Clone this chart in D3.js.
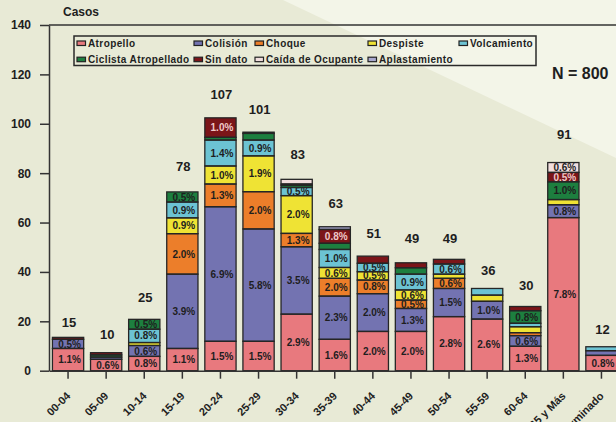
<!DOCTYPE html>
<html>
<head>
<meta charset="utf-8">
<script src="https://cdn.jsdelivr.net/npm/d3@7"></script>
<style>
    body { margin: 0; background: #e8ead6; }
    svg { display: block; font-family: "Liberation Sans", Arial, sans-serif; font-weight: bold; }
</style>
</head>
<body>
<svg id="chart" width="616" height="422"></svg>
<script>
// age groups and total cases shown above each bar
let ageGroups = ["00-04", "05-09", "10-14", "15-19", "20-24", "25-29", "30-34", "35-39",
    "40-44", "45-49", "50-54", "55-59", "60-64", "65 y Más", "Indeterminado"]
let totals = [15, 10, 25, 78, 107, 101, 83, 63, 51, 49, 49, 36, 30, 91, 12]

// cases per type
let atropello     = [9.0, 4.6, 5.8, 9.0, 11.9, 11.9, 22.9, 12.7, 15.9, 15.9, 21.9, 20.9, 9.9, 62.0, 6.2]
let colision      = [3.7, 0.9, 4.4, 30.1, 54.5, 45.5, 27.3, 17.5, 15.3, 9.3, 11.4, 7.2, 4.3, 5.2, 1.9]
let choque        = [0, 0, 0, 16.4, 9.2, 15.1, 5.4, 7.2, 5.5, 3.4, 4.1, 0, 1.2, 0, 0]
let despiste      = [0, 0, 1.2, 6.4, 7.3, 14.5, 15.3, 4.4, 3.4, 4.1, 1.7, 2.5, 2.4, 2.1, 0]
let volcamiento   = [0, 0, 5.4, 6.4, 10.5, 6.4, 3.3, 7.3, 3.4, 6.4, 4.1, 2.7, 1.4, 0, 1.6]
let ciclista      = [0, 0.9, 4.0, 4.1, 1.1, 2.7, 0.9, 2.5, 0, 2.6, 0, 0, 5.1, 7.2, 0]
let sinDato       = [0.8, 0.9, 0, 0, 7.9, 0.5, 0.5, 5.6, 2.9, 2.0, 1.9, 0, 1.7, 3.8, 0]
let caida         = [0, 0, 0, 0, 0, 0, 1.9, 0, 0, 0, 0, 0, 0, 4.0, 0]
let aplastamiento = [0, 0, 0, 0, 0, 0, 0, 1.1, 0, 0, 0, 0, 0, 0, 0]

// percentage labels written inside the segments
let atropelloLbl     = ["1.1%", "0.6%", "0.8%", "1.1%", "1.5%", "1.5%", "2.9%", "1.6%", "2.0%", "2.0%", "2.8%", "2.6%", "1.3%", "7.8%", "0.8%"]
let colisionLbl      = ["0.5%", "", "0.6%", "3.9%", "6.9%", "5.8%", "3.5%", "2.3%", "2.0%", "1.3%", "1.5%", "1.0%", "0.6%", "0.8%", ""]
let choqueLbl        = ["", "", "", "2.0%", "1.3%", "2.0%", "1.3%", "2.0%", "0.8%", "0.5%", "0.6%", "", "", "", ""]
let despisteLbl      = ["", "", "", "0.9%", "1.0%", "1.9%", "2.0%", "0.6%", "0.5%", "0.6%", "", "", "", "", ""]
let volcamientoLbl   = ["", "", "0.8%", "0.9%", "1.4%", "0.9%", "0.5%", "1.0%", "0.5%", "0.9%", "0.6%", "", "", "", ""]
let ciclistaLbl      = ["", "", "0.5%", "0.5%", "", "", "", "", "", "", "", "", "0.8%", "1.0%", ""]
let sinDatoLbl       = ["", "", "", "", "1.0%", "", "", "0.8%", "", "", "", "", "", "0.5%", ""]
let caidaLbl         = ["", "", "", "", "", "", "", "", "", "", "", "", "", "0.6%", ""]
let aplastamientoLbl = ["", "", "", "", "", "", "", "", "", "", "", "", "", "", ""]

let yTicks = [0, 20, 40, 60, 80, 100, 120, 140]

let series = [
    { name: "Atropello", values: atropello, labels: atropelloLbl, color: "#e8797e" },
    { name: "Colisión", values: colision, labels: colisionLbl, color: "#7373b1" },
    { name: "Choque", values: choque, labels: choqueLbl, color: "#ec7e2a" },
    { name: "Despiste", values: despiste, labels: despisteLbl, color: "#efe334" },
    { name: "Volcamiento", values: volcamiento, labels: volcamientoLbl, color: "#6cc3d3" },
    { name: "Ciclista Atropellado", values: ciclista, labels: ciclistaLbl, color: "#1d7f3f" },
    { name: "Sin dato", values: sinDato, labels: sinDatoLbl, color: "#7b1519" },
    { name: "Caída de Ocupante", values: caida, labels: caidaLbl, color: "#f1dede" },
    { name: "Aplastamiento", values: aplastamiento, labels: aplastamientoLbl, color: "#a9a9cf" }
]

let svg = d3.select("#chart")
drawChart()

function drawChart() {
    // lighter diagonal in the background
    svg.append("path")
        .attr("d", "M283,0 L616,0 L616,158 Z")
        .attr("fill", "#f3f5e8")

    let rows = ageGroups.map((g, i) => {
        let r = { group: g }
        series.forEach(s => r[s.name] = s.values[i])
        return r
    })
    let stacked = d3.stack().keys(series.map(s => s.name))(rows)

    let xScale = d3.scaleBand()
        .domain(ageGroups)
        .range([49, 620.5])
        .paddingInner(0.18)
        .paddingOuter(0.09)
    let yScale = d3.scaleLinear()
        .domain([0, 140])
        .range([370.7, 25])

    // segments
    let layers = svg.append("g")
    stacked.forEach((layer, k) => {
        layers.selectAll(null)
            .data(layer.filter(d => d[1] - d[0] > 0))
            .join("rect")
            .attr("x", d => xScale(d.data.group))
            .attr("y", d => yScale(d[1]))
            .attr("width", xScale.bandwidth())
            .attr("height", d => yScale(d[0]) - yScale(d[1]))
            .attr("fill", series[k].color)
    })

    // percentage labels
    let labels = svg.append("g").attr("font-size", 10).attr("text-anchor", "middle")
    stacked.forEach((layer, k) => {
        labels.selectAll(null)
            .data(layer.filter((d, i) => series[k].labels[i] != ""))
            .join("text")
            .attr("x", d => xScale(d.data.group) + xScale.bandwidth() / 2 + 1.5)
            .attr("y", d => (yScale(d[0]) + yScale(d[1])) / 2)
            .attr("dy", "0.36em")
            .attr("fill", series[k].name == "Sin dato" ? "#efc9c9" : "#1e1e1e")
            .text(d => series[k].labels[ageGroups.indexOf(d.data.group)])
    })

    // outlines over the labels
    let outlines = svg.append("g")
    stacked.forEach(layer => {
        outlines.selectAll(null)
            .data(layer.filter(d => d[1] - d[0] > 0))
            .join("rect")
            .attr("x", d => xScale(d.data.group))
            .attr("y", d => yScale(d[1]))
            .attr("width", xScale.bandwidth())
            .attr("height", d => yScale(d[0]) - yScale(d[1]))
            .attr("fill", "none")
            .attr("stroke", "#262626")
            .attr("stroke-width", 1.3)
    })

    // totals above bars
    svg.append("g")
        .selectAll("text")
        .data(ageGroups)
        .join("text")
        .attr("x", d => xScale(d) + xScale.bandwidth() / 2 + 1)
        .attr("y", (d, i) => yScale(totals[i]) - 7)
        .attr("text-anchor", "middle")
        .attr("font-size", 13)
        .attr("fill", "#1e1e1e")
        .text((d, i) => totals[i])

    // axes
    let yAxis = svg.append("g")
        .attr("transform", "translate(49,0)")
        .call(d3.axisLeft(yScale).tickValues(yTicks).tickSize(9).tickSizeOuter(0).tickPadding(9))
    yAxis.selectAll("text").attr("font-size", 12).attr("font-family", null).attr("fill", "#1e1e1e")

    let xAxis = svg.append("g")
        .attr("transform", "translate(0,370.7)")
        .call(d3.axisBottom(xScale).tickSize(8).tickSizeOuter(0))
    xAxis.selectAll("text")
        .attr("font-size", 11)
        .attr("font-family", null)
        .attr("fill", "#1e1e1e")
        .attr("x", 0).attr("y", 0).attr("dy", 0)
        .attr("text-anchor", "end")
        .attr("transform", "translate(3,26) rotate(-45)")

    svg.selectAll(".domain, .tick line")
        .attr("stroke", "#333")
        .attr("stroke-width", 1.5)

    // top frame line
    svg.append("line")
        .attr("x1", 49).attr("x2", 616)
        .attr("y1", 25).attr("y2", 25)
        .attr("stroke", "#333").attr("stroke-width", 1.5)

    svg.append("text").attr("x", 63).attr("y", 16).attr("font-size", 12).attr("fill", "#1e1e1e").text("Casos")
    svg.append("text").attr("x", 552).attr("y", 78.5).attr("font-size", 16).attr("fill", "#1e1e1e").text("N = 800")

    // legend
    let colX = [77, 194, 255, 368, 459]
    let legend = svg.append("g")
    legend.append("rect")
        .attr("x", 74).attr("y", 36)
        .attr("width", 462).attr("height", 29.5)
        .attr("fill", "none").attr("stroke", "#2a2a2a").attr("stroke-width", 1.5)
    series.forEach((s, i) => {
        let lx = colX[i % 5]
        let ly = i < 5 ? 46.5 : 62.7
        legend.append("rect")
            .attr("x", lx).attr("y", ly - 5.5)
            .attr("width", 8.5).attr("height", 4.5)
            .attr("fill", s.color).attr("stroke", "#222").attr("stroke-width", 1.2)
        legend.append("text")
            .attr("x", lx + 11).attr("y", ly)
            .attr("font-size", 10)
            .attr("letter-spacing", 0.4)
            .attr("fill", "#1e1e1e")
            .text(s.name)
    })
}
</script>
</body>
</html>
